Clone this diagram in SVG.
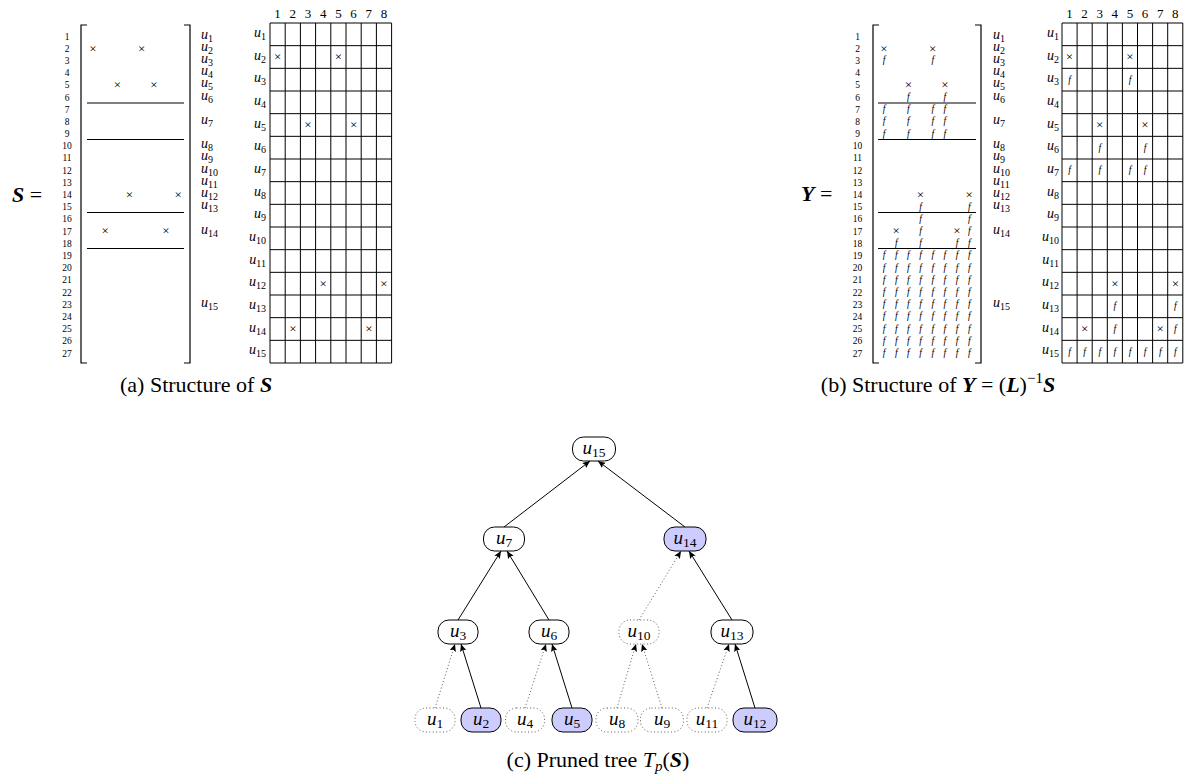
<svg xmlns="http://www.w3.org/2000/svg" width="1186" height="777" viewBox="0 0 1186 777">
<style>
text{font-family:"Liberation Serif",serif;fill:#000}
.rn{font-size:9.5px;text-anchor:middle}
.ul{font-size:14px;font-style:italic}
.ule{font-size:14px;font-style:italic;text-anchor:end}
.sb{font-style:normal;font-size:10px}
.x{font-family:"DejaVu Sans",sans-serif;font-size:13px;text-anchor:middle}
.f{font-size:9.5px;font-style:italic;text-anchor:middle}
.hd{font-size:13px;text-anchor:middle}
.cap{font-size:22px}
.bi{font-weight:bold;font-style:italic}
.it{font-style:italic}
.ln{stroke:#000;stroke-width:1;fill:none}
.br{stroke:#000;stroke-width:1.2;fill:none}
.nd{stroke:#000;stroke-width:1;fill:#fff}
.hl{fill:#ccccff}
.dt{stroke:#444;stroke-width:0.9;stroke-dasharray:1 2.4;fill:#fff}
.nl{font-size:19px;font-style:italic;text-anchor:middle}
.ns{font-style:normal;font-size:13.5px}
.e{stroke:#000;stroke-width:1;fill:none;marker-end:url(#ah)}
.ed{stroke:#444;stroke-width:0.9;stroke-dasharray:1 2.4;fill:none;marker-end:url(#ah)}
</style>
<defs>
<marker id="ah" markerUnits="userSpaceOnUse" markerWidth="8" markerHeight="7" refX="7.5" refY="3.25" orient="auto">
<path d="M0,0 L7.5,3.25 L0,6.5 L1.5,3.25 z" fill="#000"/>
</marker>
</defs>

<!-- (a) matrix S -->
<g id="matrixS">
<text x="12" y="202" class="cap" font-size="20"><tspan class="bi">S</tspan> =</text>
<path class="br" d="M87,25 H81 V363 H87 M184,25 H190 V363 H184"/>
<path class="ln" d="M87,103 H184 M87,139.5 H184 M87,212.5 H184 M87,248.5 H184"/>
<g class="rn">
<text x="67" y="39.5">1</text><text x="67" y="51.7">2</text><text x="67" y="63.9">3</text><text x="67" y="76.1">4</text><text x="67" y="88.3">5</text><text x="67" y="100.5">6</text><text x="67" y="112.6">7</text><text x="67" y="124.8">8</text><text x="67" y="137">9</text><text x="67" y="149.2">10</text><text x="67" y="161.4">11</text><text x="67" y="173.6">12</text><text x="67" y="185.8">13</text><text x="67" y="198">14</text><text x="67" y="210.2">15</text><text x="67" y="222.4">16</text><text x="67" y="234.5">17</text><text x="67" y="246.7">18</text><text x="67" y="258.9">19</text><text x="67" y="271.1">20</text><text x="67" y="283.3">21</text><text x="67" y="295.5">22</text><text x="67" y="307.7">23</text><text x="67" y="319.9">24</text><text x="67" y="332.1">25</text><text x="67" y="344.3">26</text><text x="67" y="356.5">27</text>
</g>
<g class="x">
<text x="93 141.7" y="52.5">××</text>
<text x="117.3 153.9" y="89.1">××</text>
<text x="129.5 178.2" y="198.8">××</text>
<text x="105.2 166" y="235.3">××</text>
</g>
<g class="ul">
<text x="201" y="38.5">u<tspan class="sb" dy="3">1</tspan></text>
<text x="201" y="50.7">u<tspan class="sb" dy="3">2</tspan></text>
<text x="201" y="62.9">u<tspan class="sb" dy="3">3</tspan></text>
<text x="201" y="75.1">u<tspan class="sb" dy="3">4</tspan></text>
<text x="201" y="87.3">u<tspan class="sb" dy="3">5</tspan></text>
<text x="201" y="99.5">u<tspan class="sb" dy="3">6</tspan></text>
<text x="201" y="123.8">u<tspan class="sb" dy="3">7</tspan></text>
<text x="201" y="148.2">u<tspan class="sb" dy="3">8</tspan></text>
<text x="201" y="160.4">u<tspan class="sb" dy="3">9</tspan></text>
<text x="201" y="172.6">u<tspan class="sb" dy="3">10</tspan></text>
<text x="201" y="184.8">u<tspan class="sb" dy="3">11</tspan></text>
<text x="201" y="197">u<tspan class="sb" dy="3">12</tspan></text>
<text x="201" y="209.2">u<tspan class="sb" dy="3">13</tspan></text>
<text x="201" y="233.5">u<tspan class="sb" dy="3">14</tspan></text>
<text x="201" y="306.7">u<tspan class="sb" dy="3">15</tspan></text>
</g>
</g>

<!-- (a) grid S -->
<g id="gridS">
<text class="hd" x="277.6 292.8 308 323.2 338.4 353.6 368.8 384" y="18">12345678</text>
<path class="ln" d="M270,23 V363 M285.2,23 V363 M300.4,23 V363 M315.6,23 V363 M330.8,23 V363 M346,23 V363 M361.2,23 V363 M376.4,23 V363 M391.6,23 V363 M270,23 H391.6 M270,45.67 H391.6 M270,68.33 H391.6 M270,91 H391.6 M270,113.67 H391.6 M270,136.33 H391.6 M270,159 H391.6 M270,181.67 H391.6 M270,204.33 H391.6 M270,227 H391.6 M270,249.67 H391.6 M270,272.33 H391.6 M270,295 H391.6 M270,317.67 H391.6 M270,340.33 H391.6 M270,363 H391.6"/>
<g class="ule">
<text x="266" y="36.8">u<tspan class="sb" dy="3">1</tspan></text>
<text x="266" y="59.5">u<tspan class="sb" dy="3">2</tspan></text>
<text x="266" y="82.2">u<tspan class="sb" dy="3">3</tspan></text>
<text x="266" y="104.8">u<tspan class="sb" dy="3">4</tspan></text>
<text x="266" y="127.5">u<tspan class="sb" dy="3">5</tspan></text>
<text x="266" y="150.2">u<tspan class="sb" dy="3">6</tspan></text>
<text x="266" y="172.8">u<tspan class="sb" dy="3">7</tspan></text>
<text x="266" y="195.5">u<tspan class="sb" dy="3">8</tspan></text>
<text x="266" y="218.2">u<tspan class="sb" dy="3">9</tspan></text>
<text x="266" y="240.8">u<tspan class="sb" dy="3">10</tspan></text>
<text x="266" y="263.5">u<tspan class="sb" dy="3">11</tspan></text>
<text x="266" y="286.2">u<tspan class="sb" dy="3">12</tspan></text>
<text x="266" y="308.8">u<tspan class="sb" dy="3">13</tspan></text>
<text x="266" y="331.5">u<tspan class="sb" dy="3">14</tspan></text>
<text x="266" y="354.2">u<tspan class="sb" dy="3">15</tspan></text>
</g>
<g class="x">
<text x="277.6 338.4" y="61.3">××</text>
<text x="308 353.6" y="129.3">××</text>
<text x="323.2 384" y="288">××</text>
<text x="292.8 368.8" y="333.3">××</text>
</g>
</g>
<text id="capA" x="120" y="392" class="cap">(a) Structure of <tspan class="bi">S</tspan></text>

<!-- (b) matrix Y -->
<g id="matrixY">
<text x="801" y="201" class="cap" font-size="20"><tspan class="bi">Y</tspan> =</text>
<path class="br" d="M879,25 H873 V363 H879 M975,25 H981 V363 H975"/>
<path class="ln" d="M878,103 H976 M878,139.5 H976 M878,212.5 H976 M878,248.5 H976"/>
<g class="rn">
<text x="857.5" y="39.5">1</text><text x="857.5" y="51.7">2</text><text x="857.5" y="63.9">3</text><text x="857.5" y="76.1">4</text><text x="857.5" y="88.3">5</text><text x="857.5" y="100.5">6</text><text x="857.5" y="112.6">7</text><text x="857.5" y="124.8">8</text><text x="857.5" y="137">9</text><text x="857.5" y="149.2">10</text><text x="857.5" y="161.4">11</text><text x="857.5" y="173.6">12</text><text x="857.5" y="185.8">13</text><text x="857.5" y="198">14</text><text x="857.5" y="210.2">15</text><text x="857.5" y="222.4">16</text><text x="857.5" y="234.5">17</text><text x="857.5" y="246.7">18</text><text x="857.5" y="258.9">19</text><text x="857.5" y="271.1">20</text><text x="857.5" y="283.3">21</text><text x="857.5" y="295.5">22</text><text x="857.5" y="307.7">23</text><text x="857.5" y="319.9">24</text><text x="857.5" y="332.1">25</text><text x="857.5" y="344.3">26</text><text x="857.5" y="356.5">27</text>
</g>
<g class="x">
<text x="884 932.7" y="52.5">××</text>
<text x="908.3 944.9" y="89.1">××</text>
<text x="920.5 969.2" y="198.8">××</text>
<text x="896.2 957" y="235.3">××</text>
</g>
<g class="f">
<text x="884 932.7" y="63.4">ff</text>
<text x="908.3 944.9" y="100">ff</text>
<text x="884 908.3 932.7 944.9" y="112.1">ffff</text>
<text x="884 908.3 932.7 944.9" y="124.3">ffff</text>
<text x="884 908.3 932.7 944.9" y="136.5">ffff</text>
<text x="920.5 969.2" y="209.7">ff</text>
<text x="920.5 969.2" y="221.9">ff</text>
<text x="920.5 969.2" y="234">ff</text>
<text x="896.2 920.5 957 969.2" y="246.2">ffff</text>
<text x="884 896.2 908.3 920.5 932.7 944.9 957 969.2" y="258.4">ffffffff</text>
<text x="884 896.2 908.3 920.5 932.7 944.9 957 969.2" y="270.6">ffffffff</text>
<text x="884 896.2 908.3 920.5 932.7 944.9 957 969.2" y="282.8">ffffffff</text>
<text x="884 896.2 908.3 920.5 932.7 944.9 957 969.2" y="295">ffffffff</text>
<text x="884 896.2 908.3 920.5 932.7 944.9 957 969.2" y="307.2">ffffffff</text>
<text x="884 896.2 908.3 920.5 932.7 944.9 957 969.2" y="319.4">ffffffff</text>
<text x="884 896.2 908.3 920.5 932.7 944.9 957 969.2" y="331.6">ffffffff</text>
<text x="884 896.2 908.3 920.5 932.7 944.9 957 969.2" y="343.8">ffffffff</text>
<text x="884 896.2 908.3 920.5 932.7 944.9 957 969.2" y="356">ffffffff</text>
</g>
<g class="ul">
<text x="993" y="38.5">u<tspan class="sb" dy="3">1</tspan></text>
<text x="993" y="50.7">u<tspan class="sb" dy="3">2</tspan></text>
<text x="993" y="62.9">u<tspan class="sb" dy="3">3</tspan></text>
<text x="993" y="75.1">u<tspan class="sb" dy="3">4</tspan></text>
<text x="993" y="87.3">u<tspan class="sb" dy="3">5</tspan></text>
<text x="993" y="99.5">u<tspan class="sb" dy="3">6</tspan></text>
<text x="993" y="123.8">u<tspan class="sb" dy="3">7</tspan></text>
<text x="993" y="148.2">u<tspan class="sb" dy="3">8</tspan></text>
<text x="993" y="160.4">u<tspan class="sb" dy="3">9</tspan></text>
<text x="993" y="172.6">u<tspan class="sb" dy="3">10</tspan></text>
<text x="993" y="184.8">u<tspan class="sb" dy="3">11</tspan></text>
<text x="993" y="197">u<tspan class="sb" dy="3">12</tspan></text>
<text x="993" y="209.2">u<tspan class="sb" dy="3">13</tspan></text>
<text x="993" y="233.5">u<tspan class="sb" dy="3">14</tspan></text>
<text x="993" y="306.7">u<tspan class="sb" dy="3">15</tspan></text>
</g>
</g>

<!-- (b) grid Y -->
<g id="gridY">
<text class="hd" x="1069.5 1084.6 1099.7 1114.8 1130 1145 1160.2 1175.3" y="18">12345678</text>
<path class="ln" d="M1062,23 V363 M1077.1,23 V363 M1092.2,23 V363 M1107.3,23 V363 M1122.4,23 V363 M1137.5,23 V363 M1152.6,23 V363 M1167.7,23 V363 M1182.8,23 V363 M1062,23 H1182.8 M1062,45.67 H1182.8 M1062,68.33 H1182.8 M1062,91 H1182.8 M1062,113.67 H1182.8 M1062,136.33 H1182.8 M1062,159 H1182.8 M1062,181.67 H1182.8 M1062,204.33 H1182.8 M1062,227 H1182.8 M1062,249.67 H1182.8 M1062,272.33 H1182.8 M1062,295 H1182.8 M1062,317.67 H1182.8 M1062,340.33 H1182.8 M1062,363 H1182.8"/>
<g class="ule">
<text x="1059" y="36.8">u<tspan class="sb" dy="3">1</tspan></text>
<text x="1059" y="59.5">u<tspan class="sb" dy="3">2</tspan></text>
<text x="1059" y="82.2">u<tspan class="sb" dy="3">3</tspan></text>
<text x="1059" y="104.8">u<tspan class="sb" dy="3">4</tspan></text>
<text x="1059" y="127.5">u<tspan class="sb" dy="3">5</tspan></text>
<text x="1059" y="150.2">u<tspan class="sb" dy="3">6</tspan></text>
<text x="1059" y="172.8">u<tspan class="sb" dy="3">7</tspan></text>
<text x="1059" y="195.5">u<tspan class="sb" dy="3">8</tspan></text>
<text x="1059" y="218.2">u<tspan class="sb" dy="3">9</tspan></text>
<text x="1059" y="240.8">u<tspan class="sb" dy="3">10</tspan></text>
<text x="1059" y="263.5">u<tspan class="sb" dy="3">11</tspan></text>
<text x="1059" y="286.2">u<tspan class="sb" dy="3">12</tspan></text>
<text x="1059" y="308.8">u<tspan class="sb" dy="3">13</tspan></text>
<text x="1059" y="331.5">u<tspan class="sb" dy="3">14</tspan></text>
<text x="1059" y="354.2">u<tspan class="sb" dy="3">15</tspan></text>
</g>
<g class="x">
<text x="1069.5 1130" y="61.3">××</text>
<text x="1099.7 1145" y="129.3">××</text>
<text x="1114.8 1175.3" y="288">××</text>
<text x="1084.6 1160.2" y="333.3">××</text>
</g>
<g class="f">
<text x="1069.5 1130" y="82.7">ff</text>
<text x="1099.7 1145" y="150.7">ff</text>
<text x="1069.5 1099.7 1130 1145" y="173.3">ffff</text>
<text x="1114.8 1175.3" y="309.3">ff</text>
<text x="1114.8 1175.3" y="332">ff</text>
<text x="1069.5 1084.6 1099.7 1114.8 1130 1145 1160.2 1175.3" y="354.7">ffffffff</text>
</g>
</g>
<text id="capB" x="938" y="392" class="cap" text-anchor="middle">(b) Structure of <tspan class="bi">Y</tspan>  =  (<tspan class="bi">L</tspan>)<tspan font-size="15" dy="-9">−1</tspan><tspan class="bi" dy="9">S</tspan></text>

<!-- (c) tree -->
<g id="edges">
<line class="e" x1="504" y1="527" x2="590" y2="461"/>
<line class="e" x1="685" y1="527" x2="598" y2="461"/>
<line class="e" x1="458" y1="620" x2="501" y2="551"/>
<line class="e" x1="549" y1="620" x2="507" y2="551"/>
<line class="ed" x1="639" y1="620" x2="681" y2="551"/>
<line class="e" x1="732" y1="620" x2="689" y2="551"/>
<line class="ed" x1="435" y1="708" x2="455" y2="644"/>
<line class="e" x1="481" y1="708" x2="461" y2="644"/>
<line class="ed" x1="525" y1="708" x2="546" y2="644"/>
<line class="e" x1="572" y1="708" x2="552" y2="644"/>
<line class="ed" x1="617" y1="708" x2="636" y2="644"/>
<line class="ed" x1="662" y1="708" x2="642" y2="644"/>
<line class="ed" x1="707" y1="708" x2="729" y2="644"/>
<line class="e" x1="755" y1="708" x2="735" y2="644"/>
</g>
<g id="n15"><rect class="nd" x="572.5" y="437" width="43" height="24" rx="11"/><text class="nl" x="594" y="453.5">u<tspan class="ns" dy="3.5">15</tspan></text></g>
<g id="n7"><rect class="nd" x="483.5" y="527" width="41" height="24" rx="11"/><text class="nl" x="504" y="543.5">u<tspan class="ns" dy="3.5">7</tspan></text></g>
<g id="n14"><rect class="nd hl" x="664" y="527" width="42" height="24" rx="11"/><text class="nl" x="685" y="543.5">u<tspan class="ns" dy="3.5">14</tspan></text></g>
<g id="n3"><rect class="nd" x="438" y="620" width="40" height="24" rx="11"/><text class="nl" x="458" y="636.5">u<tspan class="ns" dy="3.5">3</tspan></text></g>
<g id="n6"><rect class="nd" x="529" y="620" width="40" height="24" rx="11"/><text class="nl" x="549" y="636.5">u<tspan class="ns" dy="3.5">6</tspan></text></g>
<g id="n10"><rect class="dt" x="619" y="620" width="40" height="24" rx="11"/><text class="nl" x="639" y="636.5">u<tspan class="ns" dy="3.5">10</tspan></text></g>
<g id="n13"><rect class="nd" x="711" y="620" width="42" height="24" rx="11"/><text class="nl" x="732" y="636.5">u<tspan class="ns" dy="3.5">13</tspan></text></g>
<g id="n1"><rect class="dt" x="415" y="708" width="40" height="24" rx="11"/><text class="nl" x="435" y="724.5">u<tspan class="ns" dy="3.5">1</tspan></text></g>
<g id="n2"><rect class="nd hl" x="461" y="708" width="40" height="24" rx="11"/><text class="nl" x="481" y="724.5">u<tspan class="ns" dy="3.5">2</tspan></text></g>
<g id="n4"><rect class="dt" x="505.5" y="708" width="39" height="24" rx="11"/><text class="nl" x="525" y="724.5">u<tspan class="ns" dy="3.5">4</tspan></text></g>
<g id="n5"><rect class="nd hl" x="552" y="708" width="40" height="24" rx="11"/><text class="nl" x="572" y="724.5">u<tspan class="ns" dy="3.5">5</tspan></text></g>
<g id="n8"><rect class="dt" x="596" y="708" width="42" height="24" rx="11"/><text class="nl" x="617" y="724.5">u<tspan class="ns" dy="3.5">8</tspan></text></g>
<g id="n9"><rect class="dt" x="640.5" y="708" width="43" height="24" rx="11"/><text class="nl" x="662" y="724.5">u<tspan class="ns" dy="3.5">9</tspan></text></g>
<g id="n11"><rect class="dt" x="687" y="708" width="40" height="24" rx="11"/><text class="nl" x="707" y="724.5">u<tspan class="ns" dy="3.5">11</tspan></text></g>
<g id="n12"><rect class="nd hl" x="733" y="708" width="44" height="24" rx="11"/><text class="nl" x="755" y="724.5">u<tspan class="ns" dy="3.5">12</tspan></text></g>
<text id="capC" x="598" y="767" class="cap" text-anchor="middle">(c) Pruned tree <tspan class="it">T</tspan><tspan class="it" font-size="15" dy="4">p</tspan><tspan dy="-4">(</tspan><tspan class="bi">S</tspan>)</text>
</svg>
